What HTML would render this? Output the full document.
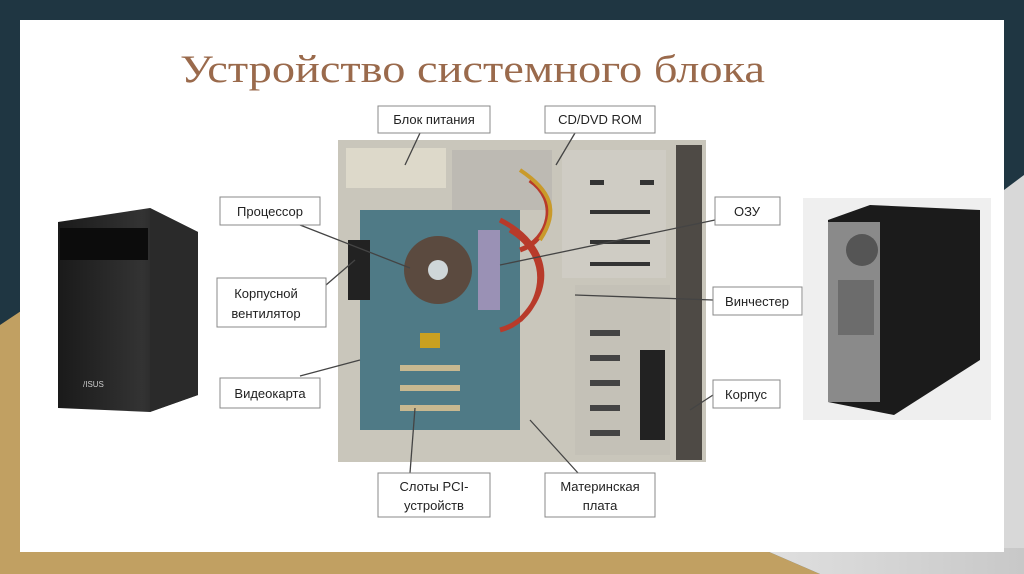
<!DOCTYPE html>
<html><head><meta charset="utf-8"><style>
html,body{margin:0;padding:0}
body{width:1024px;height:574px;overflow:hidden;background:#1f3642;position:relative;font-family:"Liberation Sans","DejaVu Sans",sans-serif}
svg{position:absolute;left:0;top:0}
.lbl{font-family:"Liberation Sans Narrow","Liberation Sans",sans-serif;font-size:13px;fill:#222}
</style></head><body>
<svg width="1024" height="574" viewBox="0 0 1024 574">
<defs>
<linearGradient id="gr" x1="0" x2="1"><stop offset="0" stop-color="#e0e0e0"/><stop offset="1" stop-color="#c8c8c8"/></linearGradient>
<linearGradient id="blk" x1="0" x2="1"><stop offset="0" stop-color="#1a1a1a"/><stop offset=".6" stop-color="#333"/><stop offset="1" stop-color="#111"/></linearGradient>
</defs>
<rect width="1024" height="574" fill="#1f3642"/>
<polygon points="0,325 30,305 30,574 0,574" fill="#c1a062"/>
<polygon points="1004,190 1024,175 1024,574 1004,574" fill="#d8d8d8"/>
<polygon points="0,548 760,548 820,574 0,574" fill="#c1a062"/>
<polygon points="760,548 1024,548 1024,574 820,574" fill="url(#gr)"/>
<rect x="20" y="20" width="984" height="532" fill="#ffffff"/>
<text x="180" y="82" font-family="Liberation Serif,serif" font-size="39" fill="#9a6a4c" textLength="585" lengthAdjust="spacingAndGlyphs">Устройство системного блока</text>

<!-- left tower -->
<polygon points="58,222 150,208 198,232 198,395 150,412 58,408" fill="url(#blk)"/>
<polygon points="150,208 198,232 198,395 150,412" fill="#2a2a2a"/>
<rect x="60" y="228" width="88" height="32" fill="#0c0c0c"/>
<text x="83" y="387" font-size="8" fill="#ccc">/ISUS</text>

<!-- right tower -->
<rect x="803" y="198" width="188" height="222" fill="#efefef"/>
<polygon points="828,220 870,205 980,210 980,360 894,415 828,402" fill="#1b1b1b"/>
<rect x="828" y="222" width="52" height="180" fill="#8a8a8a"/>
<circle cx="862" cy="250" r="16" fill="#555"/>
<rect x="838" y="280" width="36" height="55" fill="#6c6c6c"/>

<!-- open case photo -->
<rect x="338" y="140" width="368" height="322" fill="#c9c6bb"/>
<rect x="346" y="148" width="100" height="40" fill="#ddd9ca"/>
<rect x="452" y="150" width="100" height="60" fill="#bdbab3"/>
<rect x="562" y="150" width="104" height="128" fill="#cfccc4"/>
<g fill="#333"><rect x="590" y="180" width="14" height="5"/><rect x="640" y="180" width="14" height="5"/><rect x="590" y="210" width="60" height="4"/><rect x="590" y="240" width="60" height="4"/><rect x="590" y="262" width="60" height="4"/></g>
<rect x="575" y="285" width="95" height="170" fill="#c4c1b7"/>
<g fill="#444"><rect x="590" y="330" width="30" height="6"/><rect x="590" y="355" width="30" height="6"/><rect x="590" y="380" width="30" height="6"/><rect x="590" y="405" width="30" height="6"/><rect x="590" y="430" width="30" height="6"/></g>
<rect x="640" y="350" width="25" height="90" fill="#222"/>
<rect x="676" y="145" width="26" height="315" fill="#4e4a45"/>
<rect x="360" y="210" width="160" height="220" fill="#4f7a86"/>
<circle cx="438" cy="270" r="34" fill="#5b4a3f"/>
<circle cx="438" cy="270" r="10" fill="#cfd6d8"/>
<rect x="478" y="230" width="22" height="80" fill="#9a91b5"/>
<rect x="348" y="240" width="22" height="60" fill="#222"/>
<path d="M500 220 C540 240 560 280 520 320 M510 230 C560 260 540 320 500 330 M530 180 C560 200 550 240 520 250" stroke="#b83a2a" stroke-width="5" fill="none"/>
<path d="M520 170 C550 190 560 210 540 240" stroke="#c99a2a" stroke-width="4" fill="none"/>
<g fill="#c8b890"><rect x="400" y="365" width="60" height="6"/><rect x="400" y="385" width="60" height="6"/><rect x="400" y="405" width="60" height="6"/></g>
<rect x="420" y="333" width="20" height="15" fill="#c9a020"/>

<!-- leader lines -->
<g stroke="#444" stroke-width="1.3" fill="none">
<path d="M420 133 L405 165"/><path d="M575 133 L556 165"/>
<path d="M300 225 L410 268"/><path d="M715 220 L500 265"/>
<path d="M326 285 L355 260"/><path d="M713 300 L575 295"/>
<path d="M300 376 L360 360"/><path d="M713 395 L690 410"/>
<path d="M410 473 L415 408"/><path d="M578 473 L530 420"/>
</g>

<!-- labels -->
<g fill="#fff" stroke="#888" stroke-width="1">
<rect x="378" y="106" width="112" height="27"/><rect x="545" y="106" width="110" height="27"/>
<rect x="220" y="197" width="100" height="28"/><rect x="715" y="197" width="65" height="28"/>
<rect x="217" y="278" width="109" height="49"/><rect x="713" y="287" width="89" height="28"/>
<rect x="220" y="378" width="100" height="30"/><rect x="713" y="380" width="67" height="28"/>
<rect x="378" y="473" width="112" height="44"/><rect x="545" y="473" width="110" height="44"/>
</g>
<g class="lbl" text-anchor="middle">
<text x="434" y="124">Блок питания</text><text x="600" y="124">CD/DVD ROM</text>
<text x="270" y="216">Процессор</text><text x="747" y="216">ОЗУ</text>
<text x="266" y="298">Корпусной</text><text x="266" y="318">вентилятор</text>
<text x="757" y="306">Винчестер</text>
<text x="270" y="398">Видеокарта</text><text x="746" y="399">Корпус</text>
<text x="434" y="491">Слоты PCI-</text><text x="434" y="510">устройств</text>
<text x="600" y="491">Материнская</text><text x="600" y="510">плата</text>
</g>
</svg>
</body></html>
